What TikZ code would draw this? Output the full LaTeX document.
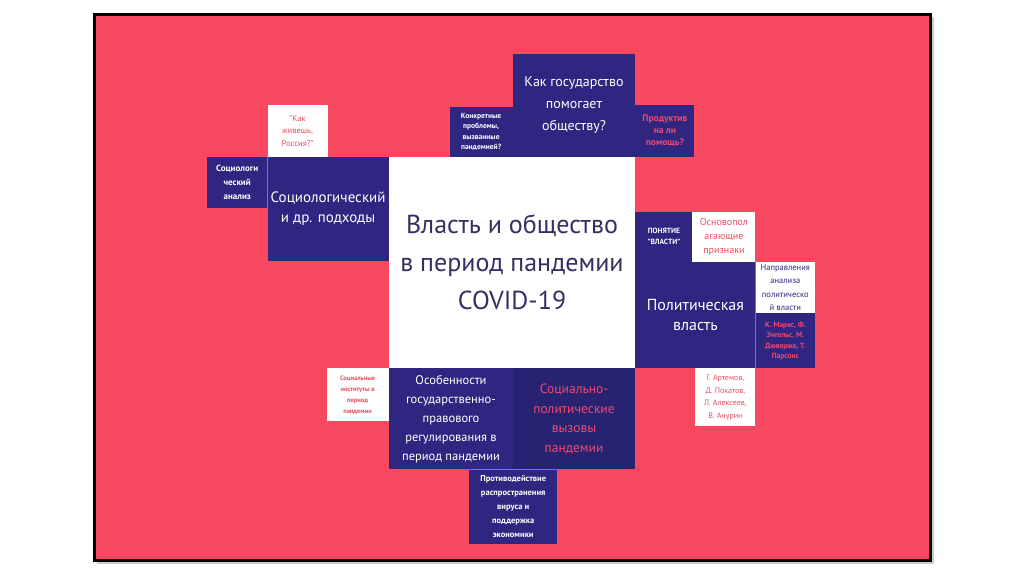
\documentclass[tikz,border=0pt]{standalone}
\usepackage{fontspec}
\setmainfont{PT Sans}
\usetikzlibrary{positioning}

\definecolor{bgred}{RGB}{248,72,95}
\definecolor{navy}{RGB}{46,38,128}
\definecolor{navydk}{RGB}{40,35,112}
\definecolor{pinktxt}{RGB}{240,72,112}
\definecolor{redtxt}{RGB}{232,78,96}
\definecolor{titletxt}{RGB}{52,48,100}

\newcommand{\fs}[2]{\fontsize{#1}{#2}\selectfont}

\begin{document}
\begin{tikzpicture}[
    x=1pt, y=-1pt,
    navybox/.style={fill=navy, text=white, inner sep=0pt, align=center},
    whitebox/.style={fill=white, text=redtxt, inner sep=0pt, align=center},
    every node/.style={font=\small}
  ]
  \useasboundingbox[fill=white] (0,0) rectangle (1024,574);
  \fill[black!20] (97,17) rectangle (934,564);
  \draw[line width=3pt, fill=bgred] (94.5,14.5) rectangle (930.5,560.5);

  % centre
  \node[whitebox, minimum width=246, minimum height=211, text=titletxt, font=\fs{26}{38}] (title) at (512,262.5) {Власть и общество\\в период пандемии\\COVID-19};

  % top
  \node[navybox, minimum width=122, minimum height=103, anchor=south east, font=\fs{14}{22}] (help) at (title.north east) {Как государство\\помогает\\обществу?};
  \node[navybox, minimum width=63, minimum height=50, anchor=south east, font=\bfseries\fs{7.5}{10.5}] (probl) at (help.south west) {Конкретные\\проблемы,\\вызванные\\пандемией?};
  \node[navybox, minimum width=59, minimum height=52, anchor=south west, text=pinktxt, font=\bfseries\fs{9.5}{12}] (prod) at (help.south east) {Продуктив\\на ли\\помощь?};

  % left
  \node[navybox, minimum width=121, minimum height=104, anchor=north east, font=\fs{15}{20}] (socio) at (title.north west) {Социологический\\и др. подходы};
  \node[navybox, minimum width=60, minimum height=51, anchor=north east, font=\bfseries\fs{9}{14}] (sanal) at (socio.north west) {Социологи\\ческий\\анализ};
  \node[whitebox, minimum width=60, minimum height=52, anchor=south west, font=\fs{8.5}{12.5}] (life) at (socio.north west) {"Как\\живешь,\\Россия?"};

  % right
  \node[navybox, minimum width=120, minimum height=106, anchor=south west, font=\fs{16}{20}] (power) at (title.south east) {Политическая\\власть};
  \node[navybox, minimum width=57, minimum height=50, anchor=south west, font=\bfseries\fs{7.5}{11}] (notion) at (power.north west) {ПОНЯТИЕ\\"ВЛАСТИ"};
  \node[whitebox, minimum width=63, minimum height=50, anchor=south east, font=\fs{10}{14}] (basis) at (power.north east) {Основопол\\агающие\\признаки};
  \node[whitebox, minimum width=59, minimum height=51, anchor=north west, text=navy, font=\fs{8.5}{13.5}] (trend) at (power.north east) {Направления\\анализа\\политическо\\й власти};
  \node[navybox, minimum width=59, minimum height=55, anchor=north west, text=pinktxt, font=\bfseries\fs{7.5}{10.5}] (marx) at (trend.south west) {К. Маркс, Ф.\\Энгельс, М.\\Дюверже, Т.\\Парсонс};
  \node[whitebox, minimum width=60, minimum height=58, anchor=north east, font=\fs{8}{12.7}] (authors) at (power.south east) {Г. Артемов,\\Д. Покатов,\\Л. Алексеев,\\В. Анурин};

  % bottom
  \node[navybox, minimum width=124, minimum height=101, anchor=north west, font=\fs{12.5}{19}] (law) at (title.south west) {Особенности\\государственно-\\правового\\регулирования в\\период пандемии};
  \node[navybox, fill=navydk, minimum width=122, minimum height=101, anchor=north east, text=pinktxt, font=\fs{13.5}{19.5}] (chall) at (title.south east) {Социально-\\политические\\вызовы\\пандемии};
  \node[navybox, minimum width=88, minimum height=74, anchor=north, font=\bfseries\fs{8.5}{14}] (counter) at (law.south east) {Противодействие\\распространения\\вируса и\\поддержка\\экономики};
  \node[whitebox, minimum width=62, minimum height=53, anchor=north east, font=\bfseries\fs{6.5}{11}] (inst) at (law.north west) {Социальные\\институты в\\период\\пандемии};
\end{tikzpicture}
\end{document}
